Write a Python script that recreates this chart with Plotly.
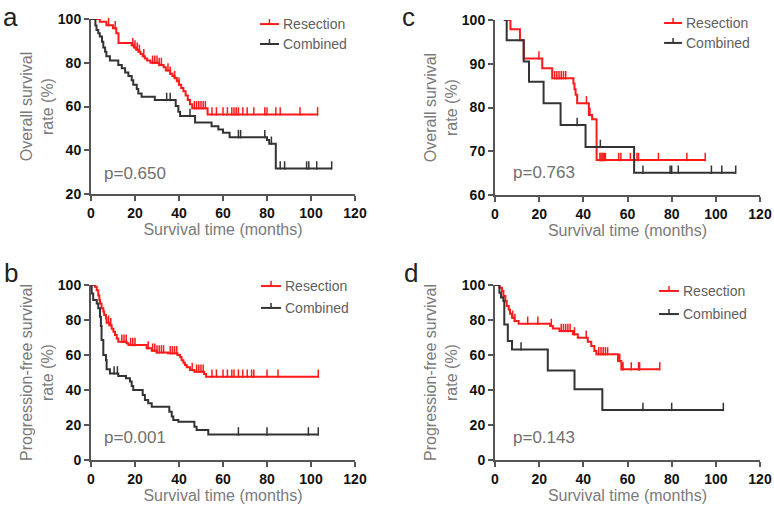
import numpy as np
import plotly.graph_objects as go

# ---- data (months, survival %) ----
# a: overall survival, whole cohort
a_res_t = [0, 4, 7, 10, 11.5, 12.5, 18.5, 19.5, 20.5, 21.5, 22.5, 23.5, 24.5, 25.5, 27, 31, 33, 34, 36, 37, 38, 39, 40, 41, 42, 43, 44, 45, 46, 53]
a_res_s = [100, 98.8, 97.2, 95.8, 93.5, 89, 88, 87, 86, 85, 84, 83, 82, 81, 80, 79, 78, 76.5, 75, 74, 73, 71.5, 70, 68.5, 67, 65, 63, 61, 59.2, 56.4]
a_res_c = [5, 8, 11, 19, 20, 21, 22, 24, 28, 29, 30, 31, 32, 35, 36, 38, 40, 47, 48, 49, 50, 51, 52, 55, 57, 60, 62, 64, 65, 66, 67, 69, 71, 74, 79, 80, 84, 86, 95, 103]
a_com_t = [0, 2, 2.5, 3.3, 4, 5, 5.6, 6.4, 7, 8.6, 12.4, 14, 15.5, 17, 18.5, 19.2, 20.8, 21.5, 23, 29, 38.5, 39.7, 40.5, 47.3, 54.8, 57.9, 60, 63, 80, 81, 84]
a_com_s = [100, 97, 95, 93.5, 92, 89.6, 87, 85, 83, 81, 79, 77.5, 75.5, 74, 72, 70, 68, 66, 64.5, 63, 60.2, 57.6, 55.7, 52.7, 51, 49.5, 48, 46, 44.7, 43, 31.7]
a_com_c = [34.4, 36, 45, 67, 68, 79, 82, 86, 88, 98, 99, 102.6, 109.4]

# c: overall survival, subgroup
c_res_t = [4, 7, 11.3, 13, 21.4, 25.9, 35.5, 36, 36.5, 37.2, 42.5, 44, 46]
c_res_s = [100, 97.9, 95.4, 91.2, 89, 86.7, 85.5, 84.2, 82.9, 81, 78.3, 77.3, 68]
c_res_c = [19.9, 27, 28, 29, 30, 31, 32, 41.4, 43, 47.5, 48, 48.5, 49, 49.5, 50, 56, 57, 61.3, 64.3, 65, 74, 86.9, 95.2]
c_com_t = [4, 5.3, 13, 15.4, 22, 29.7, 41, 63]
c_com_s = [100, 95.4, 90.5, 85.9, 81, 76, 71, 65.1]
c_com_c = [4.4, 37.2, 47.7, 67, 79.3, 80, 83, 98, 102.7, 109]

# b: progression-free survival, whole cohort
b_res_t = [0, 1.8, 2.6, 3.3, 3.8, 4.1, 4.8, 5.6, 6, 6.8, 7.1, 8.3, 9.4, 10.2, 10.9, 11.7, 12.4, 16.2, 17, 25.3, 27.6, 29.8, 35, 39.3, 40.5, 41.2, 42, 42.7, 43.5, 45, 47, 51.4, 52.3]
b_res_s = [100, 99, 97, 94, 91.4, 89.5, 86.7, 84.8, 82.9, 81, 78.5, 77, 75, 73.3, 71.4, 69.5, 67.6, 66.7, 65.7, 63.8, 62.5, 61.5, 61, 60, 58.7, 57, 55.6, 54.3, 53, 51.4, 50.5, 49.1, 47.6]
b_res_c = [8, 9, 14, 15, 16, 18, 19, 20, 26, 28, 29, 30, 31, 32, 33, 36, 37, 38, 39, 46, 48, 49, 50, 51, 55, 57, 60, 62, 64, 65, 67, 69, 71, 73, 74, 80, 85, 103.3]
b_com_t = [0, 0.3, 1, 2.6, 3.3, 4.1, 4.5, 4.8, 5.6, 6.8, 7.1, 8.6, 12.4, 15.9, 17.7, 18.5, 19.2, 23.5, 24.5, 26, 27.6, 35.6, 36.7, 37.4, 39.7, 47, 48, 53.3]
b_com_s = [100, 95.2, 91.4, 89.5, 86.7, 81.9, 76.6, 68.6, 60, 57.1, 51.8, 49.5, 48, 46.7, 44.8, 42.3, 40, 37.1, 34.3, 32.4, 30.5, 27.6, 24.8, 22.9, 21.9, 19, 17.1, 14.6]
b_com_c = [10.5, 12, 67, 80, 98.8, 103.3]

# d: progression-free survival, subgroup
d_res_t = [0, 2, 3.2, 3.8, 4.7, 5.3, 6.2, 6.8, 7.7, 8.8, 10.7, 25, 26.2, 29.2, 35.3, 37.5, 42, 43.6, 45, 45.9, 55.7, 57.2]
d_res_s = [100, 98.5, 96.6, 93.7, 90.9, 88, 86, 83.6, 81.3, 79.4, 77.9, 76.6, 75.2, 73.7, 71.8, 69.9, 67.6, 65.1, 62.3, 60.4, 56.6, 51.8]
d_res_c = [8, 9, 14.8, 19.4, 25.5, 30, 31, 32, 33, 34, 36, 41.3, 47, 48, 49, 50, 51, 56.5, 57.5, 58, 61.7, 65, 65.5, 74.6]
d_com_t = [0, 2, 2.7, 3.8, 4.2, 5.8, 7.7, 23.9, 36, 48.6]
d_com_s = [100, 95.6, 92.8, 90.9, 77.5, 68, 63.2, 51.2, 40.4, 28.6]
d_com_c = [11.8, 67, 80, 103.4]

p_values = ["p=0.650", "p=0.763", "p=0.001", "p=0.143"]
panel_letters = ["a", "c", "b", "d"]
y_titles = ["Overall survival<br>rate (%)", "Overall survival<br>rate (%)",
            "Progression-free survival<br>rate (%)", "Progression-free survival<br>rate (%)"]
y_ranges = [[20, 100], [60, 100], [0, 100], [0, 100]]
y_dticks = [20, 10, 20, 20]
groups = ["Resection", "Combined"]

RED = "#ff1a1a"
BLACK = "#333333"
FONT = "Liberation Sans"

panels = [
    [(a_res_t, a_res_s, a_res_c), (a_com_t, a_com_s, a_com_c)],
    [(c_res_t, c_res_s, c_res_c), (c_com_t, c_com_s, c_com_c)],
    [(b_res_t, b_res_s, b_res_c), (b_com_t, b_com_s, b_com_c)],
    [(d_res_t, d_res_s, d_res_c), (d_com_t, d_com_s, d_com_c)],
]

W, H = 774, 506
# plot areas in pixels: (left, right, top, bottom)
boxes = [(91, 355, 19, 194), (495, 760, 20, 195), (91, 355, 285, 460), (495, 760, 285, 460)]
letter_pos = [(1, 0), (400, 0), (2, 256), (402, 256)]
p_pos = [(0.04, 0.12), (0.06, 0.126), (0.04, 0.126), (0.06, 0.126)]
leg_pos = [(0.64, 0.712, [0.971, 0.857]), (0.638, 0.706, [0.983, 0.869]),
           (0.644, 0.72, [0.994, 0.869]), (0.619, 0.694, [0.966, 0.834])]

fig = go.Figure()
shapes, annotations = [], []

for i, (panel, box) in enumerate(zip(panels, boxes)):
    n = "" if i == 0 else str(i + 1)
    xa, ya = "x" + n, "y" + n
    l, r, t, b = box
    px_per_unit = (b - t) / (y_ranges[i][1] - y_ranges[i][0])
    off = 3 / px_per_unit
    for (tt, ss, cc), color, name in zip(panel, [RED, BLACK], groups):
        end = max(cc[-1], tt[-1])
        fig.add_trace(go.Scatter(x=tt + [end], y=ss + [ss[-1]], mode="lines", line_shape="hv",
                                 line=dict(color=color, width=2), xaxis=xa, yaxis=ya,
                                 showlegend=False, cliponaxis=False, name=name))
        idx = np.searchsorted(tt, cc, side="right") - 1
        cy = np.array(ss)[idx] + off
        fig.add_trace(go.Scatter(x=cc, y=cy, mode="markers", xaxis=xa, yaxis=ya,
                                 marker=dict(symbol="line-ns", size=6, line=dict(color=color, width=1.5)),
                                 showlegend=False, cliponaxis=False, hoverinfo="skip"))
    axis_common = dict(showgrid=False, zeroline=False, showline=True, linecolor="#555555", linewidth=2,
                       ticks="outside", ticklen=5, tickwidth=2, tickcolor="#555555", automargin=False,
                       tickfont=dict(family=FONT, size=14, color="#111111", weight="bold"))
    fig.update_layout({
        "xaxis" + n: dict(domain=[l / W, r / W], range=[0, 120], dtick=20, anchor=ya,
                          title=dict(text="Survival time (months)", standoff=4,
                                     font=dict(family=FONT, size=16, color="#7a7a7a")),
                          **axis_common),
        "yaxis" + n: dict(domain=[1 - b / H, 1 - t / H], range=y_ranges[i], dtick=y_dticks[i], anchor=xa,
                          title=dict(text=y_titles[i], standoff=0,
                                     font=dict(family=FONT, size=16, color="#7a7a7a")),
                          **axis_common),
    })
    xd, yd = xa + " domain", ya + " domain"
    annotations.append(dict(text=p_values[i], x=p_pos[i][0], y=p_pos[i][1], xref=xd, yref=yd,
                            xanchor="left", yanchor="middle", showarrow=False,
                            font=dict(family=FONT, size=17, color="#707070")))
    annotations.append(dict(text=panel_letters[i], x=letter_pos[i][0] / W, y=1 - letter_pos[i][1] / H,
                            xref="paper", yref="paper", xanchor="left", yanchor="top", showarrow=False,
                            font=dict(family=FONT, size=26, color="#222222")))
    x0, x1, rows = leg_pos[i]
    for name, color, yy in zip(groups, [RED, BLACK], rows):
        shapes.append(dict(type="line", xref=xd, yref=yd, x0=x0, x1=x1, y0=yy, y1=yy,
                           line=dict(color=color, width=2)))
        shapes.append(dict(type="line", xref=xd, yref=yd, x0=(x0 + x1) / 2, x1=(x0 + x1) / 2,
                           y0=yy, y1=yy + 5 / (b - t), line=dict(color=color, width=1.5)))
        annotations.append(dict(text=name, x=x1 + 0.008, y=yy, xref=xd, yref=yd, xanchor="left",
                                yanchor="middle", showarrow=False,
                                font=dict(family=FONT, size=14, color="#606060")))

fig.update_layout(width=W, height=H, margin=dict(l=0, r=0, t=0, b=0),
                  paper_bgcolor="white", plot_bgcolor="white",
                  shapes=shapes, annotations=annotations, showlegend=False)
# drop the browser's default body margin so the figure sits at the page corner
fig.write_html("out.html", config={"displayModeBar": False},
               post_script="document.body.style.margin='0px';")
